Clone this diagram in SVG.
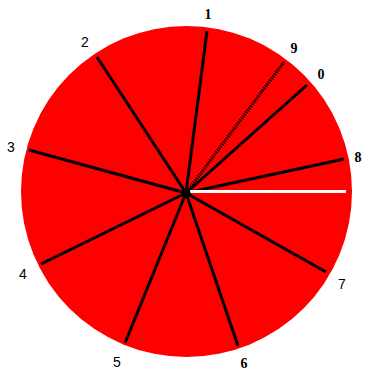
<svg xmlns="http://www.w3.org/2000/svg" width="365" height="371" viewBox="0 0 365 371">
<style>
.spoke{stroke:#000;stroke-width:3;stroke-linecap:butt;fill:none}
.serif{font-family:"Liberation Serif",serif;font-weight:bold;font-size:14px;fill:#000;text-anchor:middle}
.sans{font-family:"Liberation Sans",sans-serif;font-size:14px;fill:#000;text-anchor:middle}
</style>
<rect width="365" height="371" fill="#fff"/>
<g id="disc"><circle cx="186.5" cy="191.5" r="165.5" fill="#ff0000"/></g>
<g id="connectors">
<line class="spoke" x1="186" y1="193" x2="207" y2="31"/>
<line class="spoke" x1="186" y1="193" x2="97" y2="57"/>
<line class="spoke" x1="186" y1="193" x2="29" y2="150"/>
<line class="spoke" x1="186" y1="193" x2="41" y2="264"/>
<line class="spoke" x1="186" y1="193" x2="125" y2="343"/>
<line class="spoke" x1="186" y1="193" x2="238" y2="346"/>
<line class="spoke" x1="186" y1="193" x2="326" y2="272"/>
<line class="spoke" x1="186" y1="193" x2="344" y2="159"/>
<line class="spoke" x1="186" y1="193" x2="307" y2="85"/>
<line class="spoke" x1="186" y1="193" x2="284" y2="62" stroke-width="3.5" stroke-dasharray="1.5,1"/>
<line x1="190" y1="191.5" x2="346" y2="191.5" stroke="#fff" stroke-width="3"/>
<circle cx="186" cy="193" r="4.5" fill="#000"/>
</g>
<g id="label-1"><text class="serif" x="208" y="19">1</text></g>
<g id="label-2"><text class="sans" x="85" y="47">2</text></g>
<g id="label-3"><text class="sans" x="11" y="152">3</text></g>
<g id="label-4"><text class="sans" x="23" y="279">4</text></g>
<g id="label-5"><text class="sans" x="117" y="367">5</text></g>
<g id="label-6"><text class="serif" x="244" y="368">6</text></g>
<g id="label-7"><text class="sans" x="342" y="289">7</text></g>
<g id="label-8"><text class="serif" x="358" y="162">8</text></g>
<g id="label-9"><text class="serif" x="294" y="53">9</text></g>
<g id="label-0"><text class="serif" x="321" y="79">0</text></g>
</svg>
